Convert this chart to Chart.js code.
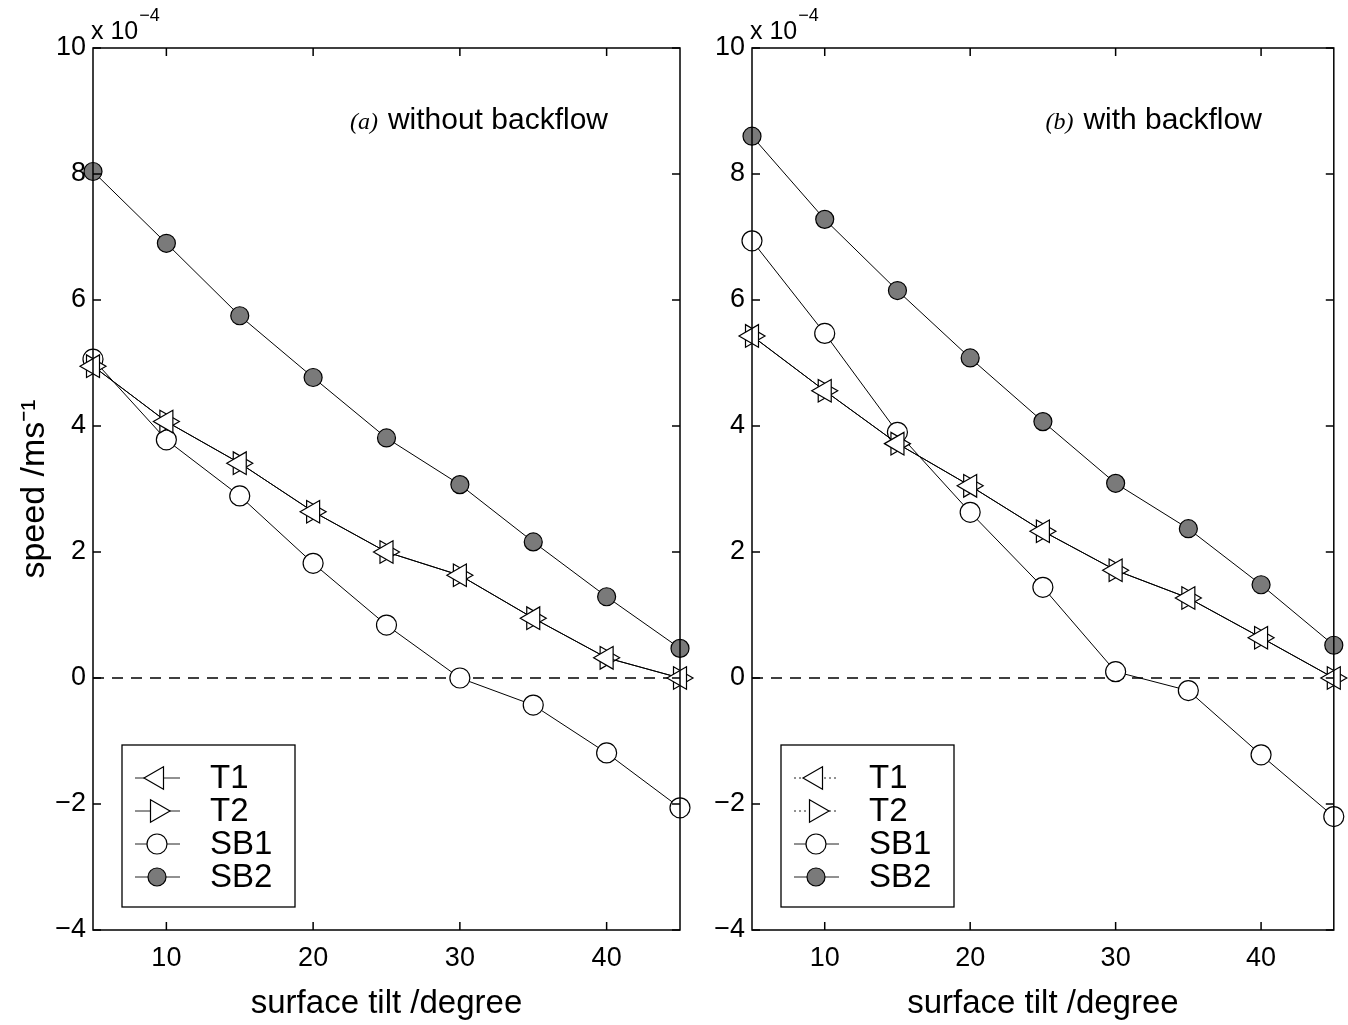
<!DOCTYPE html>
<html>
<head>
<meta charset="utf-8">
<script src="https://cdn.jsdelivr.net/npm/chart.js@4.4.0/dist/chart.umd.min.js"></script>
<style>
  body { margin: 0; background: #fff; width: 1348px; height: 1025px; position: relative; overflow: hidden; }
  .box { position: absolute; top: 0; height: 1025px; }
  #boxA { left: 0; width: 700px; }
  #boxB { left: 660px; width: 688px; }
</style>
</head>
<body>
<div class="box" id="boxA"><canvas id="chartA"></canvas></div>
<div class="box" id="boxB"><canvas id="chartB"></canvas></div>
<script>
// surface tilt in degrees
var tilt = [5, 10, 15, 20, 25, 30, 35, 40, 45];
var xTickValues = [10, 20, 30, 40];
var yTickValues = [-4, -2, 0, 2, 4, 6, 8, 10];
var seriesNames = ['T1', 'T2', 'SB1', 'SB2'];

// (a) without backflow, speed in units of 1e-4 m/s
var t1A = [4.95, 4.07, 3.41, 2.64, 2.00, 1.63, 0.95, 0.32, 0.00];
var t2A = [4.95, 4.07, 3.41, 2.64, 2.00, 1.63, 0.95, 0.32, 0.00];
var sb1A = [5.06, 3.78, 2.89, 1.82, 0.84, 0.00, -0.43, -1.19, -2.06];
var sb2A = [8.04, 6.90, 5.75, 4.77, 3.81, 3.07, 2.16, 1.29, 0.47];

// (b) with backflow
var t1B = [5.43, 4.56, 3.72, 3.05, 2.33, 1.71, 1.27, 0.64, 0.00];
var t2B = [5.43, 4.56, 3.72, 3.05, 2.33, 1.71, 1.27, 0.64, 0.00];
var sb1B = [6.94, 5.47, 3.90, 2.63, 1.44, 0.10, -0.20, -1.22, -2.20];
var sb2B = [8.60, 7.28, 6.15, 5.08, 4.07, 3.09, 2.37, 1.48, 0.52];

// dashed reference line at zero
var zeroX = [5, 45];
var zeroY = [0, 0];

var FONT = "'Liberation Sans', Arial, Helvetica, sans-serif";

function pts(ys) {
    return tilt.map(function(x, i) { return { x: x, y: ys[i] }; });
}

// draw a marker in the same way as Chart.js point styles
function drawMarker(ctx, style, rotation, r, x, y, fill) {
    ctx.save();
    ctx.beginPath();
    if (style === 'circle') {
        ctx.arc(x, y, r, 0, Math.PI * 2);
    } else {
        var rad = rotation * Math.PI / 180;
        ctx.moveTo(x + Math.sin(rad) * r, y - Math.cos(rad) * r);
        rad += 2 * Math.PI / 3;
        ctx.lineTo(x + Math.sin(rad) * r, y - Math.cos(rad) * r);
        rad += 2 * Math.PI / 3;
        ctx.lineTo(x + Math.sin(rad) * r, y - Math.cos(rad) * r);
        ctx.closePath();
    }
    ctx.fillStyle = fill;
    ctx.fill();
    ctx.lineWidth = 1.2;
    ctx.strokeStyle = '#000';
    ctx.stroke();
    ctx.restore();
}

// frame round the plot with inward ticks on all four sides
var framePlugin = {
    id: 'frame',
    afterDraw: function(chart) {
        var a = chart.chartArea, ctx = chart.ctx;
        var xs = chart.scales.x, ys = chart.scales.y;
        var len = 8;
        ctx.save();
        ctx.strokeStyle = '#000';
        ctx.lineWidth = 1.5;
        ctx.strokeRect(a.left, a.top, a.right - a.left, a.bottom - a.top);
        ctx.beginPath();
        xTickValues.forEach(function(v) {
            var px = xs.getPixelForValue(v);
            ctx.moveTo(px, a.bottom); ctx.lineTo(px, a.bottom - len);
            ctx.moveTo(px, a.top); ctx.lineTo(px, a.top + len);
        });
        yTickValues.forEach(function(v) {
            var py = ys.getPixelForValue(v);
            ctx.moveTo(a.left, py); ctx.lineTo(a.left + len, py);
            ctx.moveTo(a.right, py); ctx.lineTo(a.right - len, py);
        });
        ctx.stroke();

        // exponent label above the y axis
        ctx.fillStyle = '#000';
        ctx.textBaseline = 'alphabetic';
        ctx.textAlign = 'left';
        ctx.font = '25px ' + FONT;
        ctx.fillText('x 10', a.left - 2, a.top - 9);
        var w = ctx.measureText('x 10').width;
        ctx.font = '18px ' + FONT;
        ctx.fillText('\u22124', a.left - 1 + w, a.top - 27);

        // panel label
        var opts = chart.options.plugins.panel;
        ctx.textAlign = 'right';
        ctx.font = '30px ' + FONT;
        var rx = a.right - 72, by = a.top + 81;
        ctx.fillText(opts.text, rx, by);
        var tw = ctx.measureText(opts.text).width;
        ctx.font = 'italic 24px "Liberation Serif", "Times New Roman", serif';
        ctx.fillText('(' + opts.letter + ')', rx - tw - 10, by);
        ctx.restore();
    }
};

// legend box in the lower left corner, lines drawn through the markers
var legendPlugin = {
    id: 'boxLegend',
    afterDraw: function(chart) {
        var a = chart.chartArea, ctx = chart.ctx;
        var x0 = a.left + 29, y0 = a.bottom - 185, w = 173, h = 162;
        ctx.save();
        ctx.fillStyle = '#fff';
        ctx.fillRect(x0, y0, w, h);
        ctx.strokeStyle = '#000';
        ctx.lineWidth = 1.3;
        ctx.strokeRect(x0, y0, w, h);
        var items = chart.data.datasets.filter(function(d) { return !d.noLegend; });
        items.forEach(function(d, i) {
            var cy = y0 + 33 + i * 33;
            ctx.beginPath();
            ctx.strokeStyle = '#222';
            ctx.lineWidth = 1;
            ctx.setLineDash(chart.options.plugins.boxLegend.dashed && i < 2 ? [2, 3] : []);
            ctx.moveTo(x0 + 13, cy);
            ctx.lineTo(x0 + 58, cy);
            ctx.stroke();
            ctx.setLineDash([]);
            drawMarker(ctx, d.pointStyle, d.pointRotation || 0, d.pointRadius, x0 + 35, cy, d.pointBackgroundColor);
            ctx.fillStyle = '#000';
            ctx.font = '33px ' + FONT;
            ctx.textAlign = 'left';
            ctx.textBaseline = 'middle';
            ctx.fillText(d.label, x0 + 88, cy + 1);
        });
        ctx.restore();
    }
};

function makeChart(canvasId, t1, t2, sb1, sb2, letter, text, yWidth, padRight, showYTitle, dashedLegend) {
    var base = {
        borderColor: '#000',
        borderWidth: 1,
        pointBorderColor: '#000',
        pointBorderWidth: 1.2,
        showLine: true,
        clip: false
    };
    var datasets = [
        Object.assign({}, base, { label: seriesNames[0], data: pts(t1), pointStyle: 'triangle', pointRotation: 270, pointRadius: 13, pointBackgroundColor: '#fff' }),
        Object.assign({}, base, { label: seriesNames[1], data: pts(t2), pointStyle: 'triangle', pointRotation: 90, pointRadius: 13, pointBackgroundColor: '#fff' }),
        Object.assign({}, base, { label: seriesNames[2], data: pts(sb1), pointStyle: 'circle', pointRadius: 10, pointBackgroundColor: '#fff' }),
        Object.assign({}, base, { label: seriesNames[3], data: pts(sb2), pointStyle: 'circle', pointRadius: 9, pointBackgroundColor: '#7a7a7a' }),
        {
            label: 'zero', noLegend: true,
            data: zeroX.map(function(x, i) { return { x: x, y: zeroY[i] }; }),
            borderColor: '#000', borderWidth: 1.5, borderDash: [11, 8],
            pointRadius: 0, showLine: true, order: 10
        }
    ];

    var ctx = document.getElementById(canvasId);
    return new Chart(ctx, {
        type: 'scatter',
        data: { datasets: datasets },
        options: {
            responsive: true,
            maintainAspectRatio: false,
            animation: false,
            layout: { padding: { top: 48, right: padRight, left: 0, bottom: 0 } },
            plugins: {
                legend: { display: false },
                tooltip: { enabled: false },
                panel: { letter: letter, text: text },
                boxLegend: { dashed: dashedLegend }
            },
            scales: {
                x: {
                    type: 'linear',
                    min: 5, max: 45,
                    afterBuildTicks: function(scale) {
                        scale.ticks = xTickValues.map(function(v) { return { value: v }; });
                    },
                    afterFit: function(scale) { scale.height = 95; },
                    grid: { display: false, drawTicks: false },
                    border: { display: false },
                    ticks: { color: '#000', padding: 12, font: { family: FONT, size: 27 } },
                    title: {
                        display: true,
                        text: 'surface tilt /degree',
                        color: '#000',
                        font: { family: FONT, size: 33 },
                        padding: { top: 0, bottom: 1 }
                    }
                },
                y: {
                    type: 'linear',
                    min: -4, max: 10,
                    afterBuildTicks: function(scale) {
                        scale.ticks = yTickValues.map(function(v) { return { value: v }; });
                    },
                    afterFit: function(scale) { scale.width = yWidth; },
                    grid: { display: false, drawTicks: false },
                    border: { display: false },
                    ticks: {
                        color: '#000', padding: 7, font: { family: FONT, size: 27 },
                        callback: function(v) { return v < 0 ? '\u2212' + Math.abs(v) : String(v); }
                    },
                    title: {
                        display: showYTitle,
                        text: 'speed /ms\u207B\u00B9',
                        color: '#000',
                        font: { family: FONT, size: 34 },
                        padding: { top: 14, bottom: 0 }
                    }
                }
            }
        },
        plugins: [framePlugin, legendPlugin]
    });
}

makeChart('chartA', t1A, t2A, sb1A, sb2A, 'a', 'without backflow', 93, 20, true, false);
makeChart('chartB', t1B, t2B, sb1B, sb2B, 'b', 'with backflow', 92, 11, false, true);
</script>
</body>
</html>
